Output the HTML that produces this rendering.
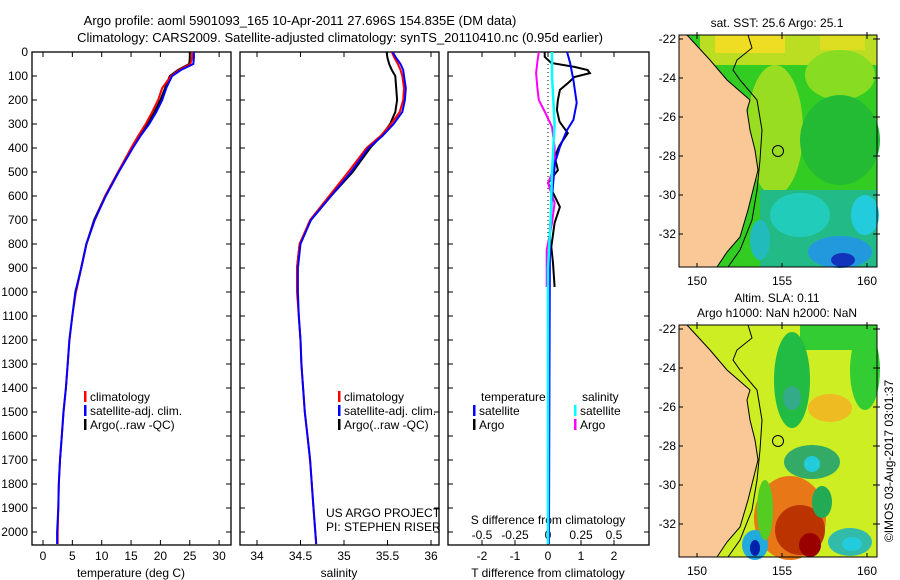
<!DOCTYPE html>
<html><head><meta charset="utf-8"><style>
html,body{margin:0;padding:0;background:#fff}
svg{display:block;font-family:"Liberation Sans",sans-serif}
text{font-size:12px;fill:#000}
</style></head><body>
<svg id="c" width="900" height="580" viewBox="0 0 900 580">
<text x="300" y="25" text-anchor="middle" style="font-size:13px">Argo profile: aoml 5901093_165 10-Apr-2011 27.696S 154.835E (DM data)</text>
<text x="340" y="42" text-anchor="middle" style="font-size:13px">Climatology: CARS2009. Satellite-adjusted climatology: synTS_20110410.nc (0.95d earlier)</text>
<g id="maps"></g>
<g id="plots"></g>
</svg>
<script>
const depths=[0,25,50,75,100,150,200,250,300,350,400,500,600,700,800,900,1000,1100,1200,1300,1400,1500,1600,1700,1800,1900,2000,2050];
const climT=[25.4,25.4,25.1,23.2,21.8,20.3,19.6,18.6,17.5,16.2,15.0,12.8,10.6,8.8,7.4,6.5,5.6,5.0,4.5,4.2,3.9,3.5,3.2,2.9,2.7,2.6,2.5,2.5];
const satT=[25.7,25.7,25.6,23.5,22.0,21.0,20.3,19.3,18.1,16.6,15.3,12.9,10.7,8.8,7.4,6.5,5.5,5.0,4.5,4.2,3.9,3.5,3.2,2.9,2.7,2.6,2.4,2.4];
const argoDepths=[0,25,50,75,100,150,200,250,300,350,400,500,600,700,800,900,1000];
const argoT=[25.0,25.0,24.9,23.0,21.6,20.8,20.0,19.0,17.8,16.4,15.2,12.8,10.6,8.7,7.4,6.5,5.6];
const climS=[35.55,35.58,35.62,35.65,35.67,35.69,35.68,35.64,35.54,35.42,35.26,35.05,34.83,34.61,34.49,34.46,34.46,34.48,34.5,34.51,34.53,34.55,34.58,34.61,34.63,34.65,34.67,34.68];
const satS=[35.56,35.6,35.65,35.68,35.69,35.71,35.7,35.67,35.57,35.44,35.28,35.08,34.85,34.62,34.5,34.47,34.47,34.48,34.5,34.51,34.53,34.55,34.58,34.61,34.63,34.65,34.67,34.68];
const argoS=[35.49,35.5,35.52,35.55,35.59,35.6,35.61,35.59,35.53,35.43,35.3,35.1,34.85,34.62,34.49,34.46,34.46];
const argoDTdepths=[0,20,46,62,75,88,104,130,158,200,242,290,338,390,437,492,546,600,646,712,812,879,979];
const argoDT=[-0.1,-0.1,0.1,0.8,1.2,1.27,0.8,0.6,0.36,0.3,0.27,0.35,0.6,0.35,0.2,0.3,0.0,0.2,0.36,0.2,0.1,0.15,0.2];
const satDTdepths=[0,46,117,212,283,325,396,463,604,742,1158,2000,2050];
const satDT=[0.58,0.67,0.77,0.87,0.77,0.58,0.36,0.21,0.12,0.06,0.05,0.03,0.03];
const argoDSdepths=[0,40,88,150,200,254,312,396,479,546,629,712,825,979];
const argoDS=[-0.07,-0.08,-0.09,-0.08,-0.07,-0.02,0.03,0.05,0.05,0.0,0.05,0.03,-0.01,-0.01];
const satDSdepths=[0,100,200,300,400,500,700,900,1200,2050];
const satDS=[0.03,0.03,0.04,0.05,0.04,0.03,0.02,0.0,0.0,0.0];
const depthTicks=[0,100,200,300,400,500,600,700,800,900,1000,1100,1200,1300,1400,1500,1600,1700,1800,1900,2000];
const tempTicks=[0,5,10,15,20,25,30];
const salTicks=[34,34.5,35,35.5,36];
const dTTicks=[-2,-1,0,1,2];
const dSTicks=[-0.5,-0.25,0,0.25,0.5];
const dSTickLabels=['-0.5','-0.25','0','0.25','0.5'];
const latTicks=[22,24,26,28,30,32];
const lonTicks=[150,155,160];

const NS='http://www.w3.org/2000/svg';
const plots=document.getElementById('plots'), maps=document.getElementById('maps');
function mk(tag,attrs,parent,txt){const e=document.createElementNS(NS,tag);for(const k in attrs)e.setAttribute(k,attrs[k]);if(txt!==undefined)e.textContent=txt;(parent||plots).appendChild(e);return e;}
const top0=52, pxPer=0.24, bot=545;
const yD=d=>top0+d*pxPer;
const xT=t=>43+5.87*t;
const xS=s=>257+87*(s-34);
const xDT=t=>548+33*t;
const xDS=s=>548+132*s;
function line(xs,ds,fx,color,name,w){
  const pts=xs.map((v,i)=>fx(v).toFixed(1)+','+yD(ds[i]).toFixed(1)).join(' ');
  const p=mk('polyline',{points:pts,fill:'none',stroke:color,'stroke-width':w||2});
  
  
}
function frame(x0,x1,name){
  const r=mk('rect',{x:x0,y:top0,width:x1-x0,height:bot-top0,fill:'none',stroke:'#000','stroke-width':1.3});
  
  
  depthTicks.forEach(d=>{mk('line',{x1:x0,x2:x0+5,y1:yD(d),y2:yD(d),stroke:'#000'});mk('line',{x1:x1-5,x2:x1,y1:yD(d),y2:yD(d),stroke:'#000'});});
}
function xticks(vals,fx,labels,ly,name,topTicks){
  vals.forEach((v,i)=>{
    const x=fx(v);
    mk('line',{x1:x,x2:x,y1:bot-5,y2:bot,stroke:'#000'});
    if(topTicks)mk('line',{x1:x,x2:x,y1:top0,y2:top0+5,stroke:'#000'});
    const t=mk('text',{x:x,y:ly,'text-anchor':'middle'},plots,labels[i]);
    
    
  });
}
frame(32,231,'temperature-panel');
depthTicks.forEach(d=>{const t=mk('text',{x:28,y:yD(d)+4,'text-anchor':'end'},plots,String(d));});
xticks(tempTicks,xT,tempTicks.map(String),560,'temperature-tick-label',true);
mk('text',{x:131,y:577,'text-anchor':'middle',},plots,'temperature (deg C)');
line(argoT,argoDepths,xT,'#000','argo-temperature-line');
line(climT,depths,xT,'#f00','climatology-temperature-line');
line(satT,depths,xT,'#00f','satellite-temperature-line');
frame(240,439,'salinity-panel');
xticks(salTicks,xS,salTicks.map(String),560,'salinity-tick-label',true);
mk('text',{x:339,y:577,'text-anchor':'middle',},plots,'salinity');
line(argoS,argoDepths,xS,'#000','argo-salinity-line');
line(climS,depths,xS,'#f00','climatology-salinity-line');
line(satS,depths,xS,'#00f','satellite-salinity-line');
function legend(x,y,color,label,name){
  mk('rect',{x:x,y:y-10,width:2.5,height:11,fill:color});
  const t=mk('text',{x:x+6,y:y},plots,label);
  
  
}
[[84,'legend-1'],[338,'legend-2']].forEach(([lx,n])=>{
  legend(lx,401,'#f00','climatology',n+'-climatology');
  legend(lx,415,'#00f','satellite-adj. clim.',n+'-satellite');
  legend(lx,429,'#000','Argo(..raw -QC)',n+'-argo');
});
mk('text',{x:326,y:517,},plots,'US ARGO PROJECT');
mk('text',{x:326,y:531,},plots,'PI: STEPHEN RISER');
frame(448,649,'difference-panel');
xticks(dTTicks,xDT,dTTicks.map(String),560,'t-diff-tick-label',false);
dSTicks.forEach((v,i)=>{const x=xDS(v);mk('line',{x1:x,x2:x,y1:top0,y2:top0+5,stroke:'#000'});const t=mk('text',{x:x,y:539,'text-anchor':'middle'},plots,dSTickLabels[i]);});
mk('text',{x:548,y:524,'text-anchor':'middle',},plots,'S difference from climatology');
mk('text',{x:548,y:577,'text-anchor':'middle',},plots,'T difference from climatology');
mk('line',{x1:548,x2:548,y1:top0,y2:yD(1000),stroke:'#000','stroke-dasharray':'1,3',});
line(argoDT,argoDTdepths,xDT,'#000','argo-t-diff-line');
line(argoDS,argoDSdepths,xDS,'#f0f','argo-s-diff-line');
line(satDT,satDTdepths,xDT,'#00f','satellite-t-diff-line');
line(satDS,satDSdepths,xDS,'#0ff','satellite-s-diff-line',2.5);
mk('text',{x:481,y:401,},plots,'temperature');
legend(473,415,'#00f','satellite','legend-t-satellite');
legend(473,429,'#000','Argo','legend-t-argo');
mk('text',{x:582,y:401,},plots,'salinity');
legend(574,415,'#0ff','satellite','legend-s-satellite');
legend(574,429,'#f0f','Argo','legend-s-argo');

// maps
const X0=679,X1=877,Y0=35,Y1=267;
const latY=l=>39+(l-22)*19.5;
const lonX=l=>697+(l-150)*17;
function E(g,cx,cy,rx,ry,f){mk('ellipse',{cx:cx,cy:cy,rx:rx,ry:ry,fill:f},g);}
function R(g,x,y,w,h,f){mk('rect',{x:x,y:y,width:w,height:h,fill:f},g);}
function mapPanel(oy,kind){
  const g=mk('g',{transform:'translate(0,'+oy+')'},maps);
  
  
  const cg=mk('g',{},g);
  if(kind==='sst'){
    R(cg,X0,Y0,X1-X0,Y1-Y0,'#33cc22');
    R(cg,700,Y0,177,30,'#bbdd22');
    R(cg,715,Y0,70,18,'#eedd22');
    R(cg,820,Y0,45,15,'#dddd22');
    E(cg,775,130,28,65,'#99dd22');
    E(cg,840,75,35,25,'#88dd22');
    E(cg,840,140,40,45,'#22bb33');
    R(cg,760,190,117,77,'#22bb88');
    E(cg,800,215,30,22,'#22ccbb');
    E(cg,865,215,14,20,'#22ccdd');
    E(cg,840,252,32,16,'#2299dd');
    E(cg,843,260,12,7,'#1133bb');
    E(cg,760,240,10,20,'#22bbbb');
  } else {
    R(cg,X0,Y0,X1-X0,Y1-Y0,'#ccee22');
    R(cg,800,Y0,77,25,'#33cc33');
    E(cg,865,80,15,40,'#33cc33');
    E(cg,792,90,18,48,'#22bb44');
    E(cg,792,108,9,12,'#33aa88');
    E(cg,830,118,22,14,'#eebb22');
    E(cg,812,172,28,17,'#33aa66');
    E(cg,812,174,8,8,'#22ccdd');
    E(cg,790,228,36,42,'#e87718');
    E(cg,800,240,25,25,'#bb3300');
    E(cg,810,255,11,12,'#990000');
    E(cg,822,212,10,16,'#22aa55');
    E(cg,850,252,22,14,'#33bbaa');
    E(cg,852,254,10,7,'#22ccdd');
    E(cg,755,255,13,15,'#22aadd');
    E(cg,755,258,5,8,'#0022aa');
    E(cg,765,220,8,30,'#55cc22');
  }
  mk('polygon',{points:'679,35 687,35 710,60 727,80 750,100 747,110 750,130 755,150 758,170 753,190 748,210 740,237 727,252 717,267 679,267',fill:'#f9c896'},g);
  mk('polyline',{points:'687,35 710,60 727,80 750,100 747,110 750,130 755,150 758,170 753,190 748,210 740,237 727,252 717,267',fill:'none',stroke:'#000','stroke-width':1},g);
  mk('polyline',{points:'748,35 752,48 737,60 733,70 740,80 757,100 762,130 760,160 757,190 752,220 740,250 728,267',fill:'none',stroke:'#000','stroke-width':1},g);
  mk('circle',{cx:778,cy:151,r:5.5,fill:'none',stroke:'#000','stroke-width':1,},g);
  mk('rect',{x:X0,y:Y0,width:X1-X0,height:Y1-Y0,fill:'none',stroke:'#000','stroke-width':1},g);
  latTicks.forEach(l=>{const y=latY(l);mk('line',{x1:X0,x2:X0+4,y1:y,y2:y,stroke:'#000'},g);mk('line',{x1:X1-4,x2:X1+3,y1:y,y2:y,stroke:'#000'},g);const t=mk('text',{x:X0-3,y:y+4,'text-anchor':'end'},g,'-'+l);});
  lonTicks.forEach(l=>{const x=lonX(l);mk('line',{x1:x,x2:x,y1:Y0-3,y2:Y0+4,stroke:'#000'},g);mk('line',{x1:x,x2:x,y1:Y1-4,y2:Y1,stroke:'#000'},g);const t=mk('text',{x:x,y:285,'text-anchor':'middle'},g,String(l));});
}
mapPanel(0,'sst');
mapPanel(290,'sla');
mk('text',{x:777,y:27,'text-anchor':'middle',},maps,'sat. SST: 25.6 Argo: 25.1');
mk('text',{x:777,y:302,'text-anchor':'middle',},maps,'Altim. SLA: 0.11');
mk('text',{x:777,y:317,'text-anchor':'middle',},maps,'Argo h1000: NaN h2000: NaN');
mk('text',{x:0,y:0,'text-anchor':'middle',transform:'translate(893,461) rotate(-90)',},maps,'©IMOS 03-Aug-2017 03:01:37');
</script>
</body></html>
